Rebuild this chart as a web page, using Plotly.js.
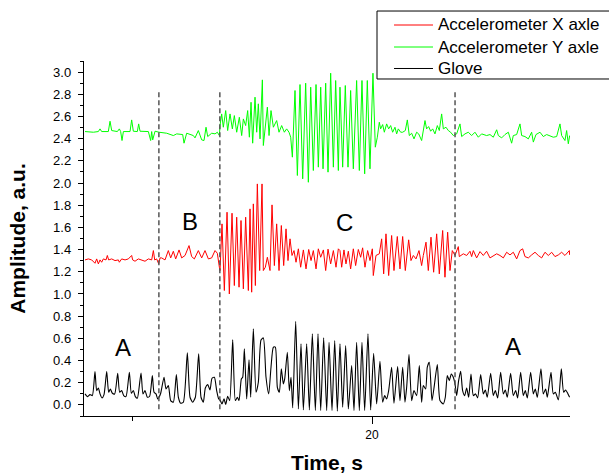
<!DOCTYPE html>
<html>
<head>
<meta charset="utf-8">
<script src="https://cdn.plot.ly/plotly-3.0.1.min.js"></script>
<style>html,body{margin:0;padding:0;background:#fff;}#chart{width:609px;height:474px;}</style>
</head>
<body>
<div id="chart"></div>
<script>
// ---- Accelerometer X axle (red) ----
const accXT = [14.021,14.091,14.160,14.195,14.229,14.264,14.299,14.334,14.368,14.403,14.459,14.486,14.514,14.577,14.646,14.716,14.736,14.785,14.855,14.924,14.993,15.014,15.063,15.132,15.202,15.271,15.341,15.410,15.445,15.473,15.514,15.556,15.584,15.618,15.688,15.757,15.806,15.861,15.910,15.980,16.035,16.105,16.188,16.243,16.299,16.382,16.452,16.521,16.591,16.660,16.730,16.778,16.820,16.834,16.875,16.924,16.980,17.028,17.084,17.132,17.181,17.230,17.271,17.320,17.368,17.424,17.459,17.493,17.528,17.570,17.611,17.660,17.709,17.736,17.778,17.820,17.875,17.917,17.966,18.014,18.063,18.111,18.160,18.209,18.250,18.292,18.334,18.375,18.417,18.466,18.514,18.570,18.625,18.681,18.730,18.778,18.834,18.882,18.931,18.987,19.035,19.084,19.139,19.195,19.250,19.299,19.333,19.368,19.416,19.458,19.507,19.555,19.611,19.659,19.715,19.764,19.805,19.854,19.909,19.958,20.007,20.027,20.083,20.152,20.201,20.243,20.291,20.347,20.409,20.458,20.527,20.583,20.639,20.694,20.764,20.812,20.861,20.916,20.979,21.034,21.069,21.125,21.173,21.229,21.284,21.347,21.402,21.472,21.520,21.576,21.625,21.673,21.729,21.798,21.819,21.902,21.972,22.041,22.076,22.111,22.180,22.250,22.319,22.388,22.458,22.527,22.597,22.666,22.736,22.805,22.875,22.944,23.014,23.083,23.139,23.187,23.257,23.326,23.396,23.465,23.534,23.604,23.673,23.743,23.812,23.882,23.951,24.020,24.111,24.118];
const accXV = [1.307,1.316,1.307,1.295,1.277,1.316,1.271,1.307,1.286,1.316,1.307,1.347,1.307,1.316,1.301,1.307,1.286,1.316,1.307,1.316,1.347,1.307,1.295,1.316,1.307,1.295,1.316,1.307,1.391,1.307,1.316,1.271,1.325,1.325,1.307,1.391,1.325,1.385,1.316,1.397,1.325,1.347,1.436,1.337,1.316,1.391,1.325,1.391,1.316,1.325,1.391,1.367,1.241,1.211,1.632,1.031,1.737,1.000,1.728,1.076,1.692,1.061,1.662,1.046,1.692,1.031,1.767,1.016,1.812,1.076,1.992,1.211,1.992,1.211,1.241,1.331,1.211,1.803,1.256,1.632,1.211,1.617,1.256,1.587,1.301,1.497,1.347,1.391,1.286,1.407,1.241,1.397,1.226,1.401,1.301,1.391,1.226,1.407,1.331,1.397,1.211,1.404,1.271,1.391,1.241,1.407,1.391,1.241,1.397,1.271,1.385,1.226,1.407,1.256,1.401,1.331,1.416,1.241,1.391,1.301,1.407,1.166,1.347,1.362,1.497,1.181,1.542,1.166,1.527,1.211,1.518,1.226,1.518,1.211,1.488,1.301,1.347,1.316,1.391,1.256,1.347,1.467,1.211,1.512,1.196,1.542,1.181,1.572,1.151,1.557,1.211,1.391,1.347,1.427,1.337,1.362,1.347,1.385,1.337,1.391,1.325,1.382,1.347,1.385,1.325,1.347,1.362,1.347,1.325,1.376,1.352,1.376,1.316,1.391,1.407,1.337,1.325,1.352,1.376,1.347,1.325,1.376,1.347,1.376,1.337,1.352,1.376,1.347,1.391,1.352];

// ---- Accelerometer Y axle (green) ----
const accYT = [14.021,14.195,14.299,14.334,14.368,14.507,14.542,14.577,14.695,14.736,14.764,14.792,14.820,14.959,14.993,15.028,15.111,15.139,15.167,15.341,15.389,15.410,15.431,15.480,15.563,15.723,15.861,15.931,16.056,16.084,16.139,16.278,16.313,16.382,16.452,16.500,16.542,16.577,16.660,16.730,16.778,16.820,16.834,16.868,16.903,16.952,16.993,17.042,17.091,17.132,17.181,17.236,17.285,17.320,17.368,17.410,17.445,17.480,17.514,17.563,17.598,17.632,17.667,17.716,17.736,17.771,17.820,17.855,17.896,17.945,18.014,18.063,18.118,18.174,18.222,18.271,18.306,18.341,18.396,18.445,18.500,18.556,18.618,18.674,18.723,18.778,18.834,18.882,18.931,18.980,19.035,19.084,19.139,19.195,19.243,19.299,19.333,19.389,19.444,19.500,19.555,19.611,19.680,19.736,19.791,19.847,19.902,19.958,20.020,20.069,20.111,20.152,20.180,20.222,20.257,20.305,20.347,20.389,20.430,20.479,20.514,20.548,20.597,20.639,20.694,20.736,20.777,20.826,20.875,20.930,20.972,21.034,21.104,21.138,21.180,21.222,21.264,21.312,21.361,21.402,21.451,21.486,21.541,21.590,21.638,21.694,21.764,21.833,21.868,21.937,22.007,22.076,22.145,22.215,22.284,22.388,22.458,22.527,22.597,22.632,22.701,22.770,22.840,22.909,22.944,23.014,23.083,23.118,23.187,23.257,23.326,23.361,23.416,23.500,23.569,23.639,23.708,23.777,23.847,23.916,23.951,24.020,24.055,24.090,24.118];
const accYV = [2.464,2.458,2.464,2.488,2.464,2.464,2.557,2.473,2.464,2.488,2.464,2.383,2.464,2.464,2.569,2.467,2.464,2.533,2.467,2.464,2.383,2.464,2.389,2.467,2.458,2.449,2.428,2.443,2.437,2.359,2.449,2.428,2.407,2.473,2.389,2.383,2.503,2.419,2.449,2.443,2.458,2.428,2.518,2.623,2.503,2.653,2.473,2.623,2.488,2.608,2.458,2.593,2.428,2.578,2.518,2.653,2.413,2.728,2.359,2.774,2.458,2.714,2.398,2.930,2.338,2.503,2.684,2.428,2.653,2.503,2.563,2.458,2.518,2.458,2.488,2.458,2.413,2.233,2.834,2.068,2.888,2.038,2.900,2.007,2.864,2.113,2.888,2.143,2.864,2.128,2.900,2.098,2.990,2.143,2.924,2.113,2.864,2.143,2.879,2.143,2.834,2.128,2.924,2.113,2.924,2.083,2.924,2.128,2.990,2.323,2.413,2.548,2.488,2.527,2.458,2.533,2.488,2.518,2.458,2.503,2.443,2.488,2.458,2.458,2.473,2.569,2.428,2.449,2.398,2.458,2.443,2.383,2.563,2.488,2.509,2.467,2.488,2.443,2.518,2.473,2.623,2.488,2.503,2.473,2.458,2.428,2.443,2.533,2.419,2.443,2.458,2.428,2.458,2.413,2.443,2.428,2.437,2.413,2.480,2.428,2.407,2.437,2.458,2.359,2.428,2.437,2.533,2.428,2.419,2.398,2.458,2.369,2.437,2.458,2.419,2.437,2.428,2.413,2.419,2.533,2.428,2.383,2.473,2.354,2.428];

// ---- Glove (black) ----
const gloveT = [14.021,14.070,14.125,14.174,14.229,14.264,14.299,14.334,14.375,14.417,14.473,14.514,14.549,14.591,14.639,14.702,14.743,14.785,14.827,14.875,14.945,14.986,15.028,15.070,15.111,15.188,15.229,15.271,15.320,15.368,15.424,15.459,15.500,15.535,15.563,15.598,15.667,15.709,15.757,15.806,15.861,15.924,15.966,16.014,16.070,16.153,16.209,16.264,16.320,16.389,16.438,16.486,16.528,16.577,16.625,16.667,16.716,16.764,16.806,16.834,16.875,16.917,16.952,16.993,17.035,17.098,17.153,17.195,17.230,17.278,17.306,17.341,17.389,17.438,17.473,17.528,17.584,17.632,17.688,17.736,17.792,17.848,17.896,17.945,17.986,18.028,18.070,18.111,18.153,18.181,18.236,18.278,18.313,18.348,18.410,18.466,18.521,18.570,18.639,18.695,18.757,18.820,18.875,18.931,18.993,19.056,19.105,19.167,19.223,19.278,19.333,19.389,19.451,19.507,19.576,19.625,19.680,19.736,19.791,19.847,19.916,19.972,20.034,20.097,20.166,20.222,20.264,20.305,20.347,20.409,20.458,20.534,20.583,20.639,20.687,20.722,20.771,20.826,20.875,20.930,20.986,21.034,21.069,21.118,21.152,21.194,21.250,21.298,21.361,21.416,21.486,21.527,21.569,21.611,21.652,21.694,21.729,21.764,21.805,21.847,21.888,21.930,21.972,22.014,22.062,22.111,22.159,22.201,22.264,22.319,22.361,22.402,22.472,22.527,22.569,22.618,22.680,22.736,22.777,22.819,22.888,22.944,22.993,23.034,23.097,23.152,23.194,23.236,23.305,23.361,23.402,23.444,23.520,23.569,23.617,23.652,23.729,23.777,23.819,23.882,23.944,23.993,24.034,24.083,24.118];
const gloveV = [0.099,0.075,0.093,0.084,0.300,0.129,0.153,0.099,0.063,0.093,0.300,0.114,0.144,0.105,0.099,0.285,0.114,0.129,0.084,0.075,0.294,0.105,0.129,0.075,0.060,0.288,0.099,0.129,0.069,0.078,0.264,0.114,0.099,0.054,0.069,0.105,0.249,0.144,0.174,0.039,0.024,0.273,0.069,0.015,0.024,0.469,0.069,0.024,0.069,0.460,0.069,0.024,0.153,0.183,0.135,0.240,0.249,0.129,0.054,0.045,0.009,0.054,0.003,0.078,0.039,0.586,0.039,0.069,0.039,0.234,0.249,0.505,0.054,0.406,0.069,0.685,0.114,0.204,0.586,0.604,0.249,0.099,0.340,0.520,0.520,0.159,0.114,0.325,0.189,0.234,0.475,0.129,0.249,-0.027,0.754,-0.036,0.550,-0.045,0.550,-0.045,0.640,-0.051,0.640,-0.051,0.604,-0.051,0.565,-0.051,0.580,-0.057,0.550,-0.021,0.535,-0.036,0.354,-0.051,0.565,-0.051,0.565,-0.051,0.640,-0.045,0.466,0.009,0.393,0.024,0.084,0.054,0.129,0.340,0.015,0.345,0.039,0.340,0.024,0.159,0.454,0.039,0.129,0.084,0.354,0.024,0.174,0.144,0.340,0.384,0.039,0.174,0.363,0.039,0.009,0.069,0.264,0.219,0.279,0.249,0.189,0.084,0.219,0.303,0.129,0.084,0.153,0.069,0.279,0.084,0.099,0.063,0.273,0.099,0.135,0.069,0.285,0.084,0.129,0.063,0.294,0.099,0.135,0.069,0.285,0.084,0.129,0.063,0.294,0.084,0.129,0.063,0.294,0.099,0.144,0.069,0.325,0.099,0.144,0.069,0.294,0.099,0.114,0.045,0.325,0.114,0.135,0.099,0.069];

// ---- Series names / colours (legend) ----
const seriesNames = ['Accelerometer X axle', 'Accelerometer Y axle', 'Glove'];
const seriesColors = ['#ff0000', '#00ff00', '#000000'];

// ---- Segment boundaries and labels ----
const boundaryT = [15.56, 16.83, 21.73];
const boundaryRange = [-0.04, 2.83];
const segLabels = ['A', 'B', 'C', 'A'];
const segLabelT = [14.81, 16.21, 19.42, 22.93];
const segLabelV = [0.52, 1.65, 1.64, 0.53];

const FONT = 'Arial, "Liberation Sans", sans-serif';

const traces = [
  {x: accXT, y: accXV, type: 'scatter', mode: 'lines', name: seriesNames[0],
   line: {color: seriesColors[0], width: 1}},
  {x: accYT, y: accYV, type: 'scatter', mode: 'lines', name: seriesNames[1],
   line: {color: seriesColors[1], width: 1}},
  {x: gloveT, y: gloveV, type: 'scatter', mode: 'lines', name: seriesNames[2],
   line: {color: seriesColors[2], width: 1.1, shape: 'spline', smoothing: 0.6}}
];

// Legend drawn as a framed box in paper coordinates (outside the plot, top right)
const legendBox = {x0: 0.6029, x1: 1.12, y0: 0.9493, y1: 1.1408};
const legendLineX = [0.6379, 0.7181];
const legendTextX = 0.7243;
const legendRowY = [1.1014, 1.0394, 0.9789];
const legendTextY = [1.1040, 1.0394, 0.9789];

const shapes = boundaryT.map(t => ({
  type: 'line', xref: 'x', yref: 'y', x0: t, x1: t, y0: boundaryRange[0], y1: boundaryRange[1],
  line: {color: '#555555', width: 1.5, dash: '5px,3px'}
}));
shapes.push({type: 'rect', xref: 'paper', yref: 'paper', x0: legendBox.x0, x1: legendBox.x1,
  y0: legendBox.y0, y1: legendBox.y1, line: {color: '#000000', width: 1}, fillcolor: 'rgba(0,0,0,0)'});
seriesNames.forEach((n, i) => shapes.push({type: 'line', xref: 'paper', yref: 'paper',
  x0: legendLineX[0], x1: legendLineX[1], y0: legendRowY[i], y1: legendRowY[i],
  line: {color: seriesColors[i], width: 1}}));

const annotations = segLabels.map((s, i) => ({
  x: segLabelT[i], y: segLabelV[i], xref: 'x', yref: 'y', text: s, showarrow: false,
  font: {family: FONT, size: 24, color: '#000'}
}));
seriesNames.forEach((n, i) => annotations.push({x: legendTextX, y: legendTextY[i],
  xref: 'paper', yref: 'paper', xanchor: 'left', yanchor: 'middle', text: n, showarrow: false,
  font: {family: FONT, size: 17, color: '#000'}}));

const layout = {
  width: 609, height: 474,
  margin: {l: 84, r: 39, t: 61, b: 58},
  paper_bgcolor: '#ffffff', plot_bgcolor: '#ffffff',
  font: {family: FONT, color: '#000'},
  showlegend: false,
  xaxis: {
    range: [14.0, 24.125], showgrid: false, zeroline: false,
    showline: true, linecolor: '#000', linewidth: 1.2,
    ticks: 'outside', ticklen: 7, tickwidth: 1, tickcolor: '#000',
    tick0: 0, dtick: 10,
    minor: {dtick: 5, tick0: 0, ticklen: 4, tickcolor: '#000', ticks: 'outside', showgrid: false},
    tickfont: {family: FONT, size: 12},
    title: {text: '<b>Time, s</b>', font: {family: FONT, size: 21}, standoff: 14}
  },
  yaxis: {
    range: [-0.1, 3.1], showgrid: false, zeroline: false,
    showline: true, linecolor: '#000', linewidth: 1.2,
    ticks: 'outside', ticklen: 5, tickwidth: 1, tickcolor: '#000',
    tick0: 0, dtick: 0.2, tickformat: '.1f', ticklabelstandoff: 4,
    minor: {dtick: 0.1, tick0: 0, ticklen: 3, tickcolor: '#000', ticks: 'outside', showgrid: false},
    tickfont: {family: FONT, size: 13},
    title: {text: '<b>Amplitude, a.u.</b>', font: {family: FONT, size: 21}, standoff: 21}
  },
  shapes: shapes,
  annotations: annotations
};

Plotly.newPlot('chart', traces, layout, {displayModeBar: false, staticPlot: true});
</script>
</body>
</html>
